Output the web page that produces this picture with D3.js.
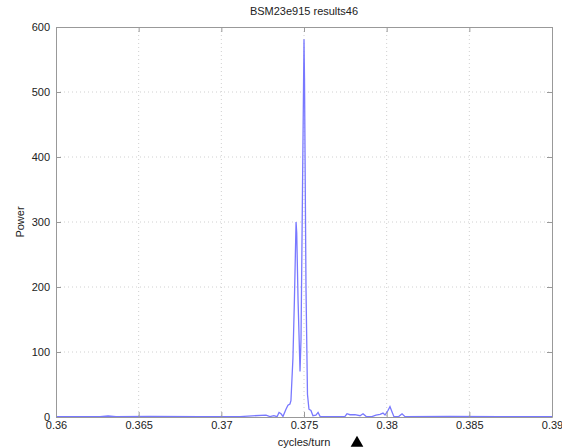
<!DOCTYPE html>
<html><head><meta charset="utf-8">
<script src="https://cdn.jsdelivr.net/npm/d3@7"></script>
<style>body{margin:0;background:#fff}svg{display:block}text{font-family:"Liberation Sans",Arial,sans-serif;fill:#222}</style>
</head><body>
<svg id="c" width="562" height="448"></svg>
<script>
const titleText = "BSM23e915 results46";
const xLabel = "cycles/turn";
const yLabel = "Power";
const xTicks = [0.36, 0.365, 0.37, 0.375, 0.38, 0.385, 0.39];
const xTickLabels = ["0.36","0.365","0.37","0.375","0.38","0.385","0.39"];
const yTicks = [0, 100, 200, 300, 400, 500, 600];
const freq = [0.36,0.36266,0.36315,0.36363,0.36569,0.36871,0.37113,0.3727,0.37294,0.37318,0.37337,0.37349,0.37361,0.37373,0.37391,0.37403,0.37415,0.37421,0.37433,0.37442,0.37452,0.37456,0.37464,0.37476,0.37482,0.37491,0.375,0.37503,0.37512,0.37521,0.3753,0.37542,0.37554,0.37572,0.37585,0.37597,0.37657,0.37748,0.3776,0.37778,0.37808,0.37839,0.37857,0.37875,0.37911,0.37935,0.3796,0.37978,0.3799,0.38008,0.3802,0.38032,0.38044,0.38074,0.38093,0.38111,0.38383,0.38685,0.39];
const power = [0.5,0.5,1.5,0.5,0.8,0.5,0.6,3,0.5,2,0.5,7,5,1,12,18,20,25,90,180,300,283,180,70,120,350,581,521,200,35,12,10,2,3,7,1,0.5,1,5,3.5,3.5,2,5,1,0.5,3,4,6,3,10,16,8,0.5,1,5,0.5,1,0.5,0.5];

const svg = d3.select("#c");
const L = 56, R = 552, T = 27, B = 417;
const x = d3.scaleLinear().domain([0.36, 0.39]).range([L, R]);
const y = d3.scaleLinear().domain([0, 600]).range([B, T]);

// grid
const g = svg.append("g");
g.selectAll(".gx").data(xTicks.slice(1, -1)).enter().append("line")
  .attr("x1", d => x(d)).attr("x2", d => x(d)).attr("y1", T).attr("y2", B)
  .attr("stroke", "#d0d0d0").attr("stroke-dasharray", "1,3");
g.selectAll(".gy").data(yTicks.slice(1, -1)).enter().append("line")
  .attr("y1", d => y(d)).attr("y2", d => y(d)).attr("x1", L).attr("x2", R)
  .attr("stroke", "#d0d0d0").attr("stroke-dasharray", "1,3");

// data line
const pts = freq.map((f, i) => [f, power[i]]);
svg.append("path").datum(pts)
  .attr("fill", "none").attr("stroke", "#7878ff").attr("stroke-width", 1.3)
  .attr("d", d3.line().x(d => x(d[0])).y(d => y(d[1])));

// axes
const xa = svg.append("g").attr("transform", `translate(0,${B})`)
  .call(d3.axisBottom(x).tickValues(xTicks).tickFormat((d, i) => xTickLabels[i]).tickSizeInner(-5).tickSizeOuter(0).tickPadding(9));
const xt = svg.append("g").attr("transform", `translate(0,${T})`)
  .call(d3.axisTop(x).tickValues(xTicks).tickFormat("").tickSizeInner(-5).tickSizeOuter(0));
const ya = svg.append("g").attr("transform", `translate(${L},0)`)
  .call(d3.axisLeft(y).tickValues(yTicks).tickSizeInner(-5).tickSizeOuter(0).tickPadding(6));
const yr = svg.append("g").attr("transform", `translate(${R},0)`)
  .call(d3.axisRight(y).tickValues(yTicks).tickFormat("").tickSizeInner(-5).tickSizeOuter(0));
[xa, xt, ya, yr].forEach(a => {
  a.selectAll("path").attr("stroke", "#999");
  a.selectAll("line").attr("stroke", "#999");
  a.selectAll("text").attr("font-size", 11).attr("fill", "#333").style("font-family", '"Liberation Sans",Arial,sans-serif');
});
xa.selectAll("text").attr("dy", "0.3em");
ya.selectAll("text").attr("dy", "0.3em");

// labels
svg.append("text").attr("x", 304).attr("y", 15).attr("text-anchor", "middle").attr("font-size", 11).text(titleText);
svg.append("text").attr("x", 304).attr("y", 446).attr("text-anchor", "middle").attr("font-size", 11).text(xLabel);
svg.append("text").attr("transform", "translate(24,222) rotate(-90)").attr("text-anchor", "middle").attr("font-size", 11).text(yLabel);

// marker triangle
svg.append("path").attr("d", d3.symbol().type(d3.symbolTriangle).size(70)).attr("transform", "translate(357,443)").attr("fill", "#000");
</script>
</body></html>
